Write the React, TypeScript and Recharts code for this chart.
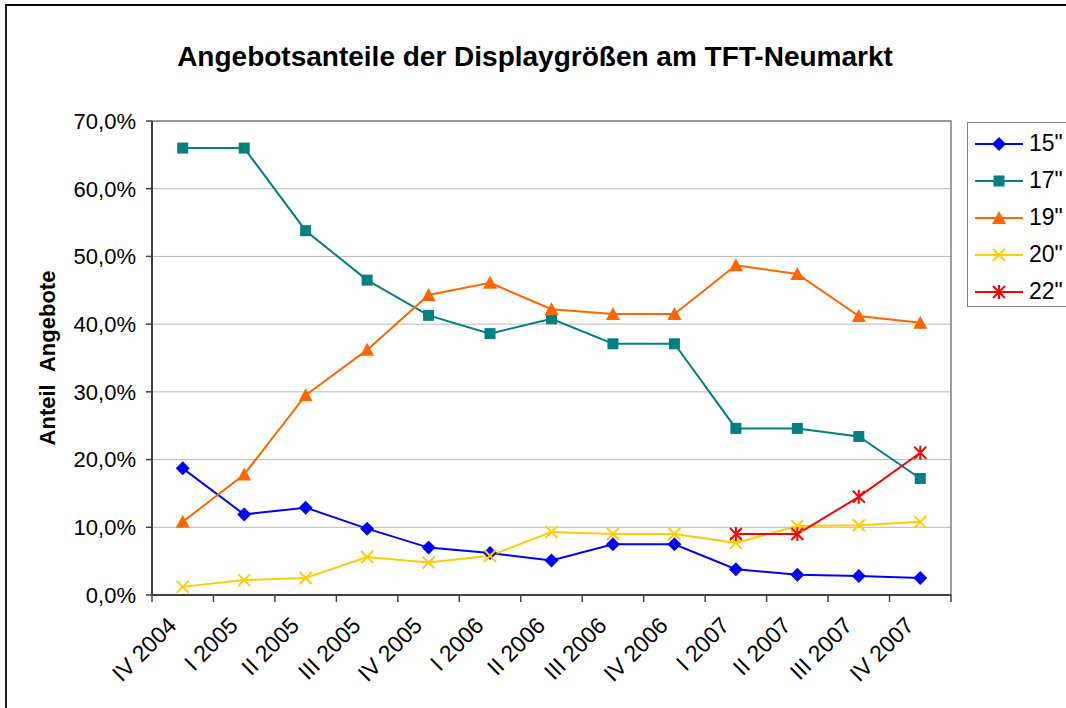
import React from 'react';
import { ComposedChart, Line, XAxis, YAxis, CartesianGrid, Legend, ReferenceArea } from 'recharts';

const categories = [
  'IV 2004', 'I 2005', 'II 2005', 'III 2005', 'IV 2005', 'I 2006', 'II 2006',
  'III 2006', 'IV 2006', 'I 2007', 'II 2007', 'III 2007', 'IV 2007',
];

// Anteil in Prozent je Quartal
const share15 = [18.7, 11.9, 12.9, 9.8, 7.0, 6.2, 5.1, 7.5, 7.5, 3.8, 3.0, 2.8, 2.5];
const share17 = [66.0, 66.0, 53.8, 46.5, 41.3, 38.6, 40.8, 37.1, 37.1, 24.6, 24.6, 23.4, 17.2];
const share19 = [10.8, 17.8, 29.5, 36.2, 44.3, 46.1, 42.2, 41.5, 41.5, 48.7, 47.4, 41.2, 40.2];
const share20 = [1.2, 2.2, 2.5, 5.6, 4.8, 5.8, 9.3, 9.0, 9.0, 7.7, 10.2, 10.3, 10.8];
const share22 = [null, null, null, null, null, null, null, null, null, 9.0, 9.0, 14.5, 21.0];

const yTicks = [0, 10, 20, 30, 40, 50, 60, 70];

const FONT = '"Liberation Sans", Arial, sans-serif';

const SERIES = [
  { key: 's15', name: '15"', color: '#0000FF', shape: 'diamond', values: share15 },
  { key: 's17', name: '17"', color: '#008080', shape: 'square', values: share17 },
  { key: 's19', name: '19"', color: '#FF6600', shape: 'triangle', values: share19 },
  { key: 's20', name: '20"', color: '#FFCC00', shape: 'cross', values: share20 },
  { key: 's22', name: '22"', color: '#FF0000', shape: 'star', values: share22 },
];

const data = categories.map((name, i) => {
  const row: Record<string, any> = { name, pos: i + 0.5 };
  SERIES.forEach((s) => {
    row[s.key] = s.values[i];
  });
  return row;
});

// tick marks at category borders, labels at category centres
const xTicks: number[] = [];
categories.forEach((_, i) => {
  xTicks.push(i, i + 0.5);
});
xTicks.push(categories.length);

const fmtPct = (v: number) => `${v.toFixed(1).replace('.', ',')}%`;

const Marker = ({ cx, cy, shape, color }: any) => {
  if (cx == null || cy == null) return <g />;
  switch (shape) {
    case 'diamond':
      return <polygon points={`${cx},${cy - 7} ${cx + 7},${cy} ${cx},${cy + 7} ${cx - 7},${cy}`} fill={color} />;
    case 'square':
      return <rect x={cx - 5.5} y={cy - 5.5} width={11} height={11} fill={color} />;
    case 'triangle':
      return <polygon points={`${cx},${cy - 7} ${cx + 7},${cy + 6} ${cx - 7},${cy + 6}`} fill={color} />;
    case 'cross':
      return (
        <g stroke={color} strokeWidth={2}>
          <line x1={cx - 6} y1={cy - 6} x2={cx + 6} y2={cy + 6} />
          <line x1={cx - 6} y1={cy + 6} x2={cx + 6} y2={cy - 6} />
        </g>
      );
    default:
      return (
        <g stroke={color} strokeWidth={2}>
          <line x1={cx - 6} y1={cy - 6} x2={cx + 6} y2={cy + 6} />
          <line x1={cx - 6} y1={cy + 6} x2={cx + 6} y2={cy - 6} />
          <line x1={cx} y1={cy - 7} x2={cx} y2={cy + 7} />
        </g>
      );
  }
};

const XTick = ({ x, y, payload }: any) => {
  const v = payload.value;
  if (Number.isInteger(v)) {
    return <line x1={x} x2={x} y1={y} y2={y + 7} stroke="#404040" strokeWidth={1.5} />;
  }
  return (
    <g transform={`translate(${x - 5},${y + 32})`}>
      <text textAnchor="end" transform="rotate(-45)" fontSize={23} fontFamily={FONT} fill="#000">
        {categories[Math.floor(v)]}
      </text>
    </g>
  );
};

const LegendBox = () => (
  <div
    style={{
      border: '1px solid #808080',
      background: '#fff',
      padding: '2px 0 0 7px',
      height: 185,
      boxSizing: 'border-box',
    }}
  >
    {SERIES.map((s) => (
      <div key={s.key} style={{ display: 'flex', alignItems: 'center', height: 37 }}>
        <svg width={48} height={20}>
          <line x1={0} x2={48} y1={10} y2={10} stroke={s.color} strokeWidth={2} />
          <Marker cx={24} cy={10} shape={s.shape} color={s.color} />
        </svg>
        <span style={{ marginLeft: 6, fontSize: 23, fontFamily: FONT, color: '#000' }}>{s.name}</span>
      </div>
    ))}
  </div>
);

export default function App() {
  return (
    <div
      style={{
        position: 'absolute',
        left: 0,
        top: 0,
        width: 1066,
        height: 708,
        overflow: 'hidden',
        background: '#fff',
        fontFamily: FONT,
      }}
    >
      {/* outer chart frame, runs off the picture to the right and bottom */}
      <div
        style={{
          position: 'absolute',
          left: 5,
          top: 4,
          width: 1200,
          height: 900,
          borderLeft: '2px solid #222',
          borderTop: '2px solid #000',
        }}
      />
      <div
        style={{
          position: 'absolute',
          left: 0,
          top: 43,
          width: 1070,
          textAlign: 'center',
          fontSize: 28,
          lineHeight: '28px',
          fontWeight: 'bold',
          color: '#000',
        }}
      >
        Angebotsanteile der Displaygrößen am TFT-Neumarkt
      </div>
      <div style={{ position: 'absolute', left: 0, top: 0 }}>
        <ComposedChart width={1066} height={708} data={data} margin={{ top: 121, right: 115, bottom: 0, left: 0 }}>
          <CartesianGrid horizontal vertical={false} stroke="#b8b8b8" />
          <ReferenceArea y1={0} y2={70} fill="none" stroke="#808080" strokeWidth={1.5} ifOverflow="visible" />
          <XAxis
            type="number"
            dataKey="pos"
            domain={[0, categories.length]}
            ticks={xTicks}
            interval={0}
            height={113}
            tickSize={0}
            tickMargin={0}
            tickLine={false}
            axisLine={{ stroke: '#404040', strokeWidth: 2 }}
            tick={<XTick />}
          />
          <YAxis
            domain={[0, 70]}
            ticks={yTicks}
            interval={0}
            width={152}
            tickFormatter={fmtPct}
            tickSize={6}
            tickMargin={10}
            axisLine={{ stroke: '#404040', strokeWidth: 2 }}
            tickLine={{ stroke: '#404040', strokeWidth: 1.5 }}
            tick={{ fontSize: 22, fill: '#000', fontFamily: FONT }}
            label={{
              value: 'Anteil\u00a0\u00a0Angebote',
              angle: -90,
              position: 'insideLeft',
              offset: 47,
              style: { textAnchor: 'middle', fontSize: 22, fontWeight: 'bold', fill: '#000', fontFamily: FONT },
            }}
          />
          <Legend
            layout="horizontal"
            verticalAlign="middle"
            align="center"
            content={<LegendBox />}
            wrapperStyle={{ left: 967, top: 122, width: 130 }}
          />
          {SERIES.map((s) => (
            <Line
              key={s.key}
              dataKey={s.key}
              name={s.name}
              stroke={s.color}
              strokeWidth={2}
              isAnimationActive={false}
              dot={(p: any) => <Marker key={`${s.key}-${p.index}`} cx={p.cx} cy={p.cy} shape={s.shape} color={s.color} />}
              activeDot={false}
            />
          ))}
        </ComposedChart>
      </div>
    </div>
  );
}
